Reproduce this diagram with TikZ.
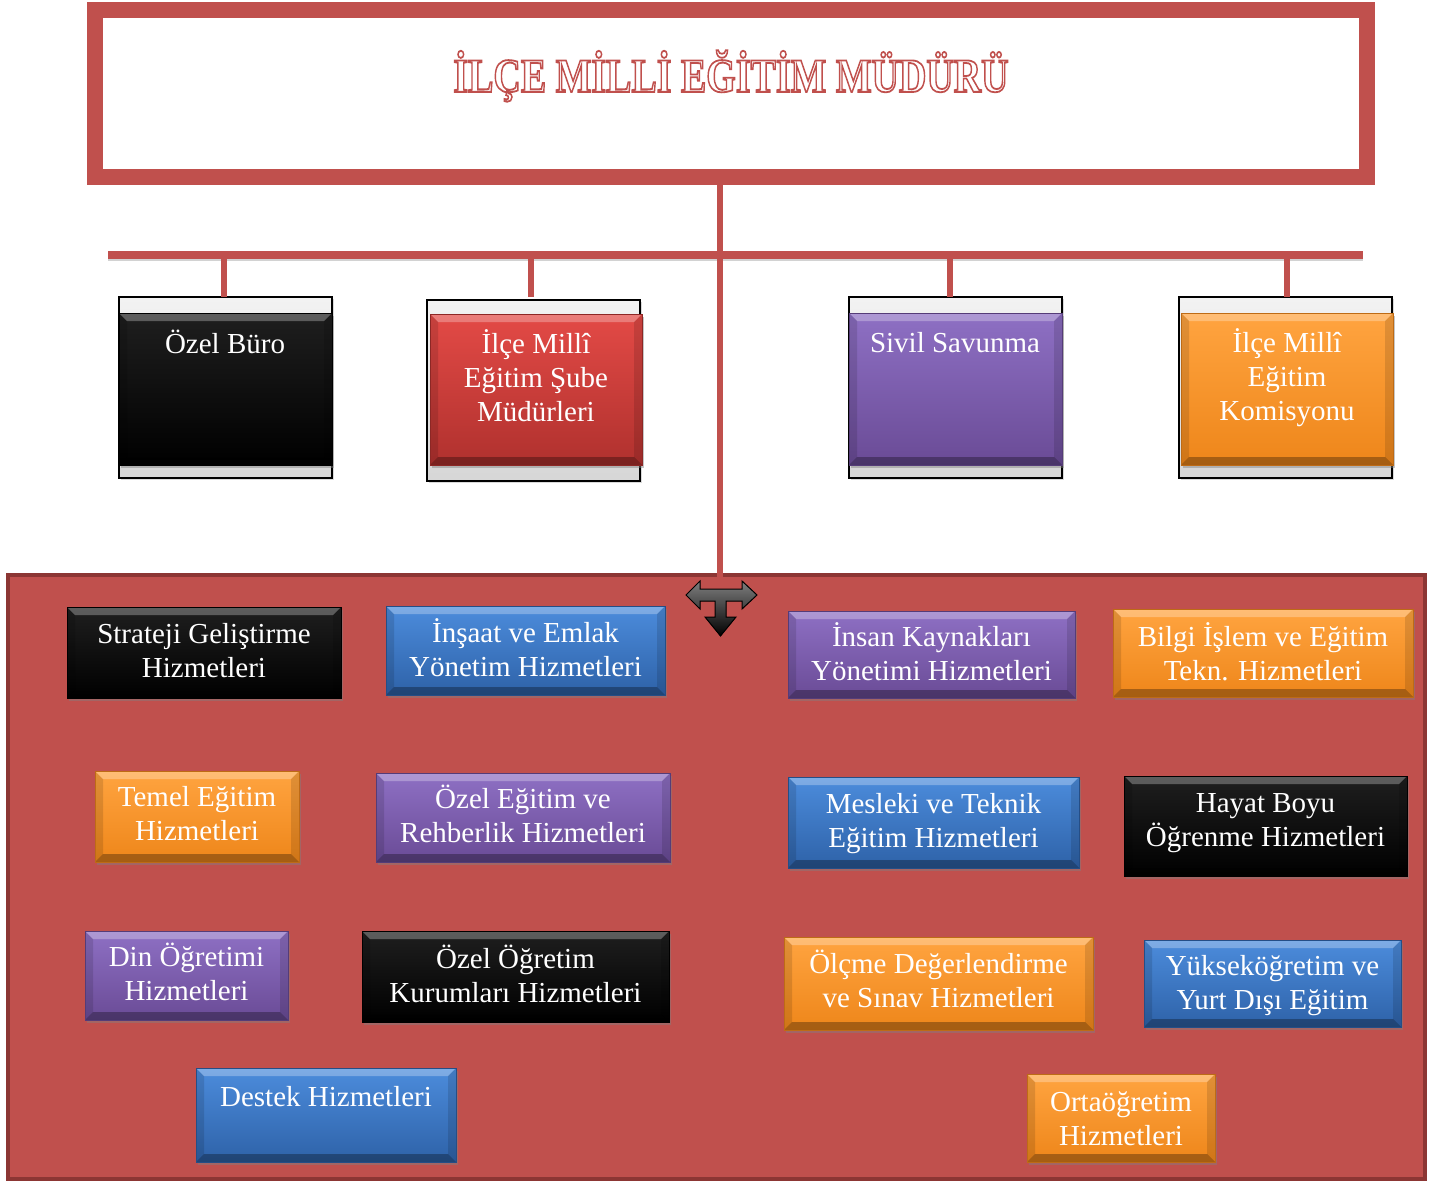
\documentclass[tikz,border=0pt]{standalone}
\usepackage{fontspec}
\setmainfont{Liberation Serif}
\usetikzlibrary{shadows,fit}
\definecolor{cred}{HTML}{C0504D}
\definecolor{cdred}{HTML}{8C3634}
\definecolor{bltop}{HTML}{4C8CDC}
\definecolor{blbot}{HTML}{2E62A8}
\definecolor{putop}{HTML}{8E70C4}
\definecolor{pubot}{HTML}{6A4B96}
\definecolor{ortop}{HTML}{FFA440}
\definecolor{orbot}{HTML}{EE861A}
\definecolor{rdtop}{HTML}{E34A46}
\definecolor{rdbot}{HTML}{B0312E}
\newcommand\bxfont{\fontsize{14.5}{17}\selectfont}
\newcommand\outlinetext[1]{\special{pdf:literal direct 1 Tr 0.9 w}#1\special{pdf:literal direct 0 Tr}}
\tikzset{
  bevel/.style={path picture={
    \fill[white,opacity=.28] (path picture bounding box.north west) -- (path picture bounding box.north east)
      -- ([xshift=-4pt,yshift=-4pt]path picture bounding box.north east) -- ([xshift=4pt,yshift=-4pt]path picture bounding box.north west) -- cycle;
    \fill[black,opacity=.3] (path picture bounding box.south west) -- (path picture bounding box.south east)
      -- ([xshift=-4pt,yshift=4pt]path picture bounding box.south east) -- ([xshift=4pt,yshift=4pt]path picture bounding box.south west) -- cycle;
    \fill[black,opacity=.12] (path picture bounding box.north west) -- ([xshift=4pt,yshift=-4pt]path picture bounding box.north west)
      -- ([xshift=4pt,yshift=4pt]path picture bounding box.south west) -- (path picture bounding box.south west) -- cycle;
    \fill[black,opacity=.12] (path picture bounding box.north east) -- ([xshift=-4pt,yshift=-4pt]path picture bounding box.north east)
      -- ([xshift=-4pt,yshift=4pt]path picture bounding box.south east) -- (path picture bounding box.south east) -- cycle;
  }},
  cbox/.style={inner sep=0pt, line width=.4pt,
    drop shadow={shadow xshift=1.2pt, shadow yshift=-1.5pt, opacity=.45}, bevel},
  bluebox/.style={cbox, top color=bltop, bottom color=blbot, draw=blbot!80!black},
  purplebox/.style={cbox, top color=putop, bottom color=pubot, draw=pubot!80!black},
  orangebox/.style={cbox, top color=ortop, bottom color=orbot, draw=orbot!80!black},
  redbox/.style={cbox, top color=rdtop, bottom color=rdbot, draw=rdbot!80!black},
  blackbox/.style={cbox, top color=black!88, bottom color=black, draw=black},
  outerbox/.style={inner sep=0pt, draw=black, line width=.8pt, top color=gray!10, bottom color=gray!32,
    drop shadow={shadow xshift=1pt, shadow yshift=-1.2pt, opacity=.3}},
  boxtext/.style={inner sep=0pt, text=white, align=center, font=\bxfont},
  conn/.style={cred, line width=3.2pt},
  connshadow/.style={gray!35, line width=3.2pt}
}
% \pbox[text shift]{style}{name}{corner}{corner}{text}
\newcommand\pbox[6][1.25pt]{%
  \node[#2, fit={#4 #5}] (#3) {};
  \node[boxtext] (#3T) at ([yshift=#1]#3.center) {#6};}
\begin{document}
\begin{tikzpicture}[x=0.5pt,y=-0.5pt]
\useasboundingbox (0,0) rectangle (1437,1183);

% lower panel
\node[fill=cred, draw=cdred, line width=1.6pt, inner sep=0pt, fit={(8,575)(1425,1179)}] (panel) {};

% title frame
\node[draw=cred, line width=8pt, inner sep=0pt, fit={(94.5,10)(1366.5,176.5)}] (frame) {};
\node[inner sep=0pt, text=cred, font=\bfseries\fontsize{24}{24}\selectfont, xscale=0.79, transform shape] (title) at (731,76)
  {\outlinetext{İLÇE MİLLİ EĞİTİM MÜDÜRÜ}};

% connector bar
\coordinate (barL) at (108,255);
\coordinate (barR) at (1363,255);
\coordinate (tee) at (720,594);
\draw[connshadow] ([yshift=-1.5pt]barL) -- ([yshift=-1.5pt]barR);
\draw[conn, line width=3.6pt] (barL) -- (barR);
\draw[conn, line width=3.4pt] (frame.south -| tee) -- (tee);

% top row boxes
\node[outerbox, fit={(119,297)(332,478)}] (ozelO) {};
\node[blackbox, fit={(119,313)(332,465)}] (ozel) {};
\node[boxtext, anchor=north] (ozelT) at (225,330) {Özel Büro};

\node[outerbox, fit={(427,300)(640,481)}] (subeO) {};
\node[redbox, fit={(430,314)(642,465)}] (sube) {};
\node[boxtext, anchor=north] (subeT) at (536,329) {İlçe Millî\\Eğitim Şube\\Müdürleri};

\node[outerbox, fit={(849,297)(1062,478)}] (sivilO) {};
\node[purplebox, fit={(849,313)(1062,465)}] (sivil) {};
\node[boxtext, anchor=north] (sivilT) at (955,332) {Sivil Savunma};

\node[outerbox, fit={(1179,297)(1392,478)}] (komO) {};
\node[orangebox, fit={(1181,313)(1393,465)}] (kom) {};
\node[boxtext, anchor=north] (komT) at (1287,328) {İlçe Millî\\Eğitim\\Komisyonu};

\foreach \n/\x in {ozelO/224, subeO/531, sivilO/950, komO/1287}
  \draw[conn, line width=3pt] (\x,257) -- (\x,297);

% arrow symbol
\filldraw[top color=black!50, bottom color=black, draw=black, line width=.5pt]
  (686,595) -- (700,581) -- (700,589) -- (742,589) -- (742,581) -- (757,595) -- (742,609) -- (742,601)
  -- (726,601) -- (726,617) -- (736,617) -- (720.5,636) -- (705,617) -- (715,617) -- (715,601)
  -- (700,601) -- (700,609) -- cycle;

% panel boxes
\pbox[1pt]{blackbox}{strat}{(67,607)}{(341,698)}{Strateji Geliştirme\\Hizmetleri}
\pbox[1.25pt]{bluebox}{insaat}{(386,606)}{(665,695)}{İnşaat ve Emlak\\Yönetim Hizmetleri}
\pbox[1.25pt]{purplebox}{ik}{(788,611)}{(1075,698)}{İnsan Kaynakları\\Yönetimi Hizmetleri}
\pbox[0.75pt]{orangebox}{bilgi}{(1113,609)}{(1413,697)}{Bilgi İşlem ve Eğitim\\Tekn. Hizmetleri}

\pbox[1.25pt]{orangebox}{temel}{(95,771)}{(299,862)}{Temel Eğitim\\Hizmetleri}
\pbox[1.75pt]{purplebox}{ozelegt}{(376,773)}{(670,862)}{Özel Eğitim ve\\Rehberlik Hizmetleri}
\pbox[-0.5pt]{bluebox}{mesleki}{(788,777)}{(1079,868)}{Mesleki ve Teknik\\Eğitim Hizmetleri}
\pbox[1.5pt]{blackbox}{hayat}{(1124,776)}{(1407,876)}{Hayat Boyu\\Öğrenme Hizmetleri}

\pbox[1.75pt]{purplebox}{din}{(85,931)}{(288,1020)}{Din Öğretimi\\Hizmetleri}
\pbox[1.5pt]{blackbox}{ozelog}{(362,931)}{(669,1022)}{Özel Öğretim\\Kurumları Hizmetleri}
\pbox[2.5pt]{orangebox}{olcme}{(784,937)}{(1093,1030)}{Ölçme Değerlendirme\\ve Sınav Hizmetleri}
\pbox[-1.25pt]{bluebox}{yuksek}{(1144,940)}{(1401,1027)}{Yükseköğretim ve\\Yurt Dışı Eğitim}

\node[bluebox, fit={(196,1068)(456,1162)}] (destek) {};
\node[boxtext, anchor=north] (destekT) at (326,1086) {Destek Hizmetleri};
\pbox[-0.25pt]{orangebox}{orta}{(1027,1074)}{(1215,1162)}{Ortaöğretim\\Hizmetleri}
\end{tikzpicture}
\end{document}
